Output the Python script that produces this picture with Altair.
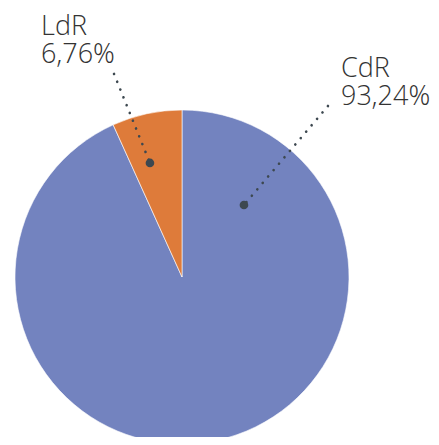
import altair as alt
import pandas as pd

# ---- data ----
categories = ["CdR", "LdR"]
shares = [93.24, 6.76]
labels = ["CdR\n93,24%", "LdR\n6,76%"]
colors = ["#7383BF", "#DE7B3A"]

# annotation anchors, in pie-radius units relative to the pie centre (y up)
dot_x = [0.371, -0.192]
dot_y = [0.431, 0.683]
end_x = [0.874, -0.407]
end_y = [1.024, 1.216]
text_x = [0.952, -0.844]
text_y = [1.198, 1.449]

# ---- layout ----
W, H = 423, 429
CX, CY, R = 174, 269, 167

pie_df = pd.DataFrame({"cat": categories, "share": shares, "ord": [0, 1]})
dots_df = pd.DataFrame({"cat": categories, "x": dot_x, "y": dot_y})
lines_df = pd.DataFrame({
    "cat": categories + categories,
    "x": end_x + dot_x,
    "y": end_y + dot_y,
    "o": [0, 0, 1, 1],
})
text_df = pd.DataFrame({"cat": categories, "label": labels, "x": text_x, "y": text_y})

xs = alt.Scale(domain=[-1, 1], range=[CX - R, CX + R], nice=False, zero=False)
ys = alt.Scale(domain=[-1, 1], range=[CY + R, CY - R], nice=False, zero=False)

pie = alt.Chart(pie_df).mark_arc(radius=R, stroke="white", strokeWidth=0.6).encode(
    theta=alt.Theta("share:Q", stack=True),
    color=alt.Color("cat:N", scale=alt.Scale(domain=categories, range=colors), legend=None),
    order=alt.Order("ord:Q"),
    x=alt.value(CX),
    y=alt.value(CY),
)

leaders = alt.Chart(lines_df).mark_line(
    color="#3d4850", strokeWidth=2.6, strokeDash=[0.1, 8.3], strokeCap="round"
).encode(
    x=alt.X("x:Q", scale=xs, axis=None),
    y=alt.Y("y:Q", scale=ys, axis=None),
    detail="cat:N",
    order="o:Q",
)

dots = alt.Chart(dots_df).mark_circle(color="#3d4850", opacity=1, size=75).encode(
    x=alt.X("x:Q", scale=xs, axis=None),
    y=alt.Y("y:Q", scale=ys, axis=None),
)

texts = alt.Chart(text_df).mark_text(
    align="left", baseline="alphabetic", lineBreak="\n", lineHeight=28,
    font="'Open Sans Light', 'Open Sans'", fontSize=27, fontWeight=300, color="#333333",
).encode(
    x=alt.X("x:Q", scale=xs, axis=None),
    y=alt.Y("y:Q", scale=ys, axis=None),
    text="label:N",
)

chart = alt.layer(pie, leaders, dots, texts).properties(
    width=W, height=H, padding=0, autosize=alt.AutoSizeParams(type="none")
).configure_view(stroke=None)

chart.save("out.html", embed_options={"renderer": "svg", "actions": False})
